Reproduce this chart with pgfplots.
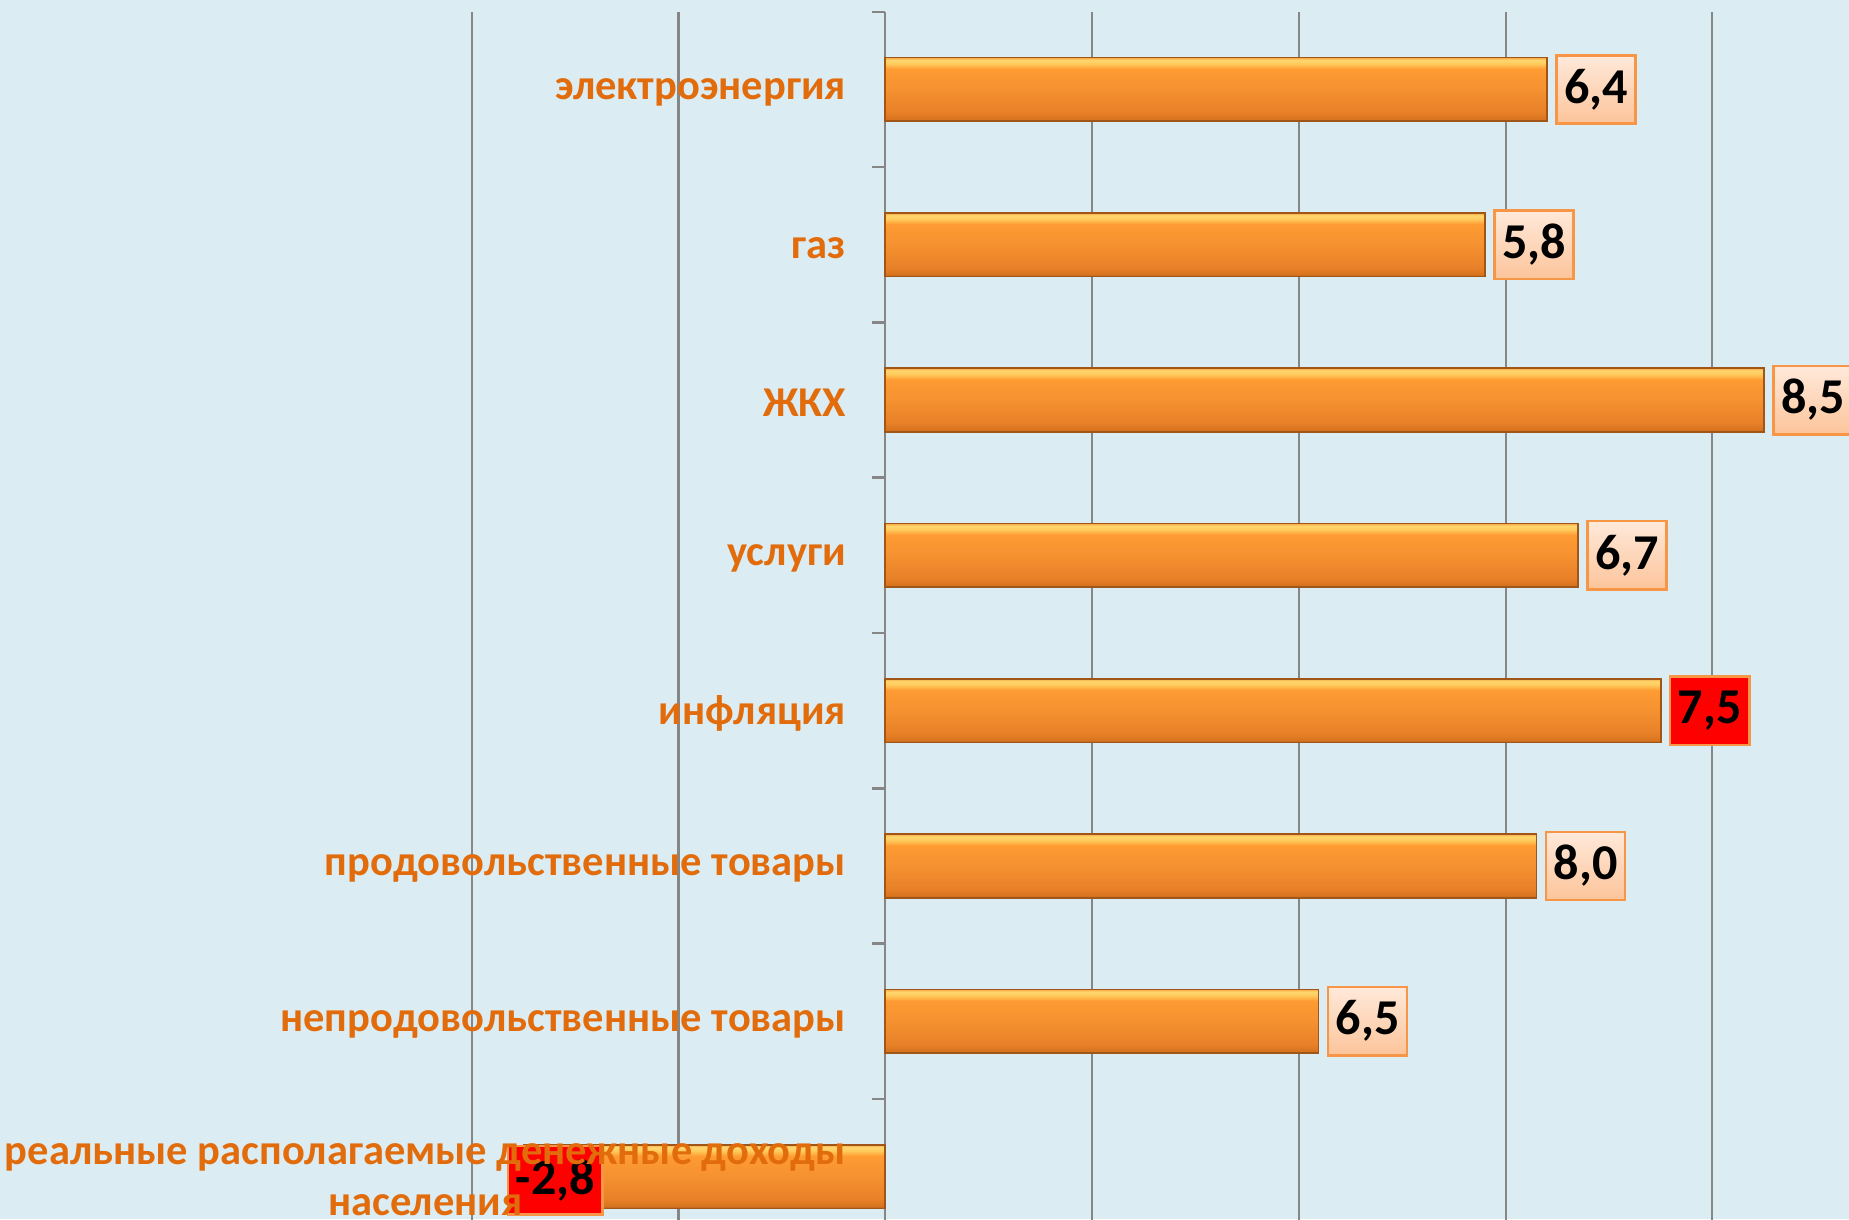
\documentclass[border=0pt]{standalone}
\usepackage{pgfplots}
\pgfplotsset{compat=1.18}
\usepackage{fontspec}
\setmainfont{Carlito}
\definecolor{bg}{RGB}{219,237,243}
\definecolor{gridgray}{RGB}{134,134,134}
\definecolor{catorange}{RGB}{226,108,12}
\definecolor{barborder}{RGB}{160,85,25}
\definecolor{barE}{RGB}{150,80,25}
\definecolor{barD}{RGB}{215,115,30}
\definecolor{barC}{RGB}{232,128,40}
\definecolor{barB}{RGB}{245,145,48}
\definecolor{barA}{RGB}{255,155,50}
\definecolor{barHi}{RGB}{255,200,90}
\definecolor{barHiB}{RGB}{255,215,110}
\definecolor{barTop}{RGB}{250,170,70}
\definecolor{peachTop}{RGB}{255,233,218}
\definecolor{peachBot}{RGB}{252,196,154}
\definecolor{lblborder}{RGB}{247,150,70}
\definecolor{lblred}{RGB}{255,0,0}
\pgfdeclareverticalshading{barshade}{100bp}{color(0bp)=(barE); color(25bp)=(barE); color(26.5bp)=(barD); color(32bp)=(barC); color(50bp)=(barB); color(66bp)=(barA); color(70bp)=(barHi); color(73bp)=(barHiB); color(75bp)=(barTop); color(100bp)=(barTop)}
\pgfplotsset{
  frame/.style={
    at={(4cm,-0.296cm)}, anchor=south west,
    scale only axis, width=12.275cm, height=10.536cm,
    xmin=-4, xmax=10, ymin=0.5, ymax=8.5, y dir=reverse,
    axis line style={draw=none},
    major tick length=0pt, tick style={draw=none},
    clip=false,
  },
  orangebar/.style={xbar, bar width=0.54cm, bar shift=0pt, draw=barborder, line width=0.4pt, shading=barshade, forget plot},
  lblbase/.style={draw=none, mark=none, nodes near coords, point meta=explicit symbolic, forget plot},
}
\tikzset{
  lblbox/.style={draw=lblborder, line width=0.6pt, inner xsep=0.065cm, inner ysep=0pt,
    minimum height=0.58cm, text=black, font=\fontsize{12.1pt}{14pt}\selectfont\bfseries},
}
\begin{document}
\begin{tikzpicture}
\useasboundingbox (0,0) rectangle (15.68,10.34);
\fill[bg] (0,0) rectangle (15.68,10.34);
\clip (0,0) rectangle (15.68,10.34);
\begin{axis}[
  frame,
  xtick={-4,-2,...,10}, xticklabel={},
  xmajorgrids, grid style={draw=gridgray, line width=0.5pt},
  ytick=\empty,
]
\addplot[orangebar] coordinates {(6.4,1)};
\addplot[orangebar] coordinates {(5.8,2)};
\addplot[orangebar] coordinates {(8.5,3)};
\addplot[orangebar] coordinates {(6.7,4)};
\addplot[orangebar] coordinates {(7.5,5)};
\addplot[orangebar] coordinates {(6.3,6)};
\addplot[orangebar] coordinates {(4.19,7)};
\addplot[orangebar] coordinates {(-3.5,8)};
\addplot[draw=none, mark=none, forget plot,
  error bars/.cd, x dir=minus, x fixed=0.125, error mark=none,
  error bar style={draw=gridgray, line width=0.6pt}]
  coordinates {(0,0.5) (0,1.5) (0,2.5) (0,3.5) (0,4.5) (0,5.5) (0,6.5) (0,7.5) (0,8.5)};
\addplot[lblbase, nodes near coords style={lblbox, anchor=west, xshift=0.07cm, top color=peachTop, bottom color=peachBot}]
  coordinates {(6.4,1) [{6,4}] (5.8,2) [{5,8}] (8.5,3) [{8,5}] (6.7,4) [{6,7}] (6.3,6) [{8,0}] (4.19,7) [{6,5}]};
\addplot[lblbase, nodes near coords style={lblbox, anchor=west, xshift=0.07cm, fill=lblred}]
  coordinates {(7.5,5) [{7,5}]};
\addplot[lblbase, nodes near coords style={lblbox, anchor=center, yshift=-0.03cm, fill=lblred}]
  coordinates {(-3.19,8) [{-2,8}]};
\end{axis}
\begin{axis}[
  frame,
  xtick=\empty,
  ytick={1,...,8},
  yticklabels={электроэнергия, газ, ЖКХ, услуги, инфляция, продовольственные товары, непродовольственные товары, {реальные располагаемые денежные доходы\\населения}},
  yticklabel style={anchor=east, inner sep=0pt, xshift=3.18cm, yshift=-0.025cm, align=center,
    font=\fontsize{10.25pt}{12.2pt}\selectfont\bfseries, text=catorange},
]
\end{axis}
\end{tikzpicture}
\end{document}
